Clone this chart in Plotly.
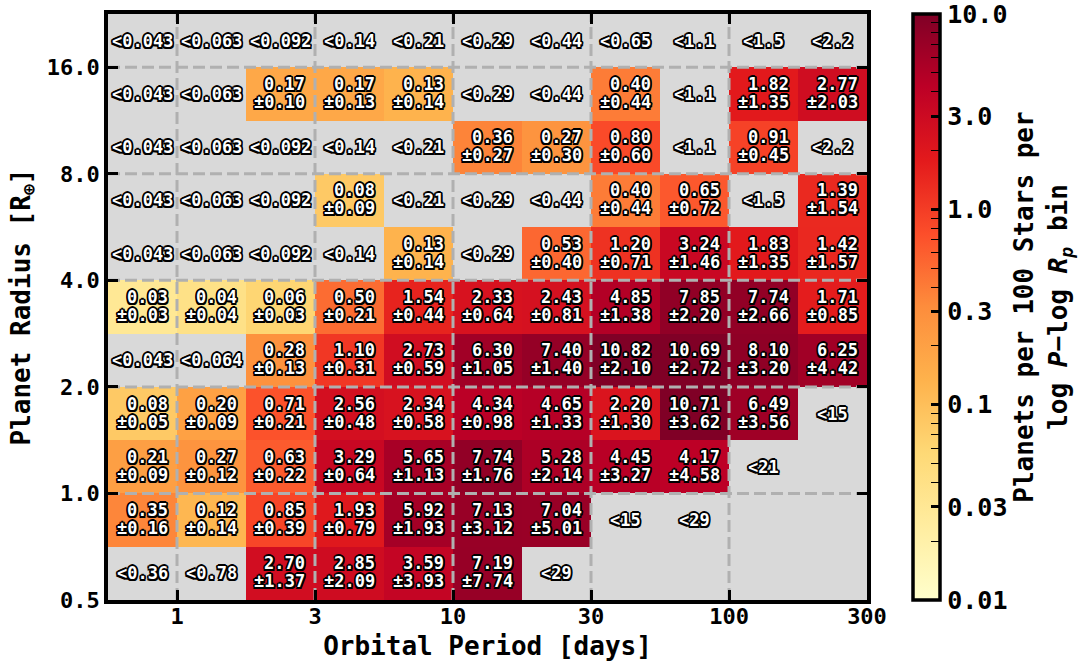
import math
import plotly.graph_objects as go

# Bin edges: orbital period [days] (quarter-decade bins) and planet radius [R_earth] (half-octave bins)
period_edges = [0.5623, 1.0, 1.778, 3.162, 5.623, 10.0, 17.78, 31.62, 56.23, 100.0, 177.8, 316.2]
radius_edges = [0.5, 0.7071, 1.0, 1.414, 2.0, 2.828, 4.0, 5.657, 8.0, 11.31, 16.0, 22.63]

# Occurrence rates (planets per 100 stars per bin); rows run from the smallest radius bin upward
rate = [
    [None, None, 2.70, 2.85, 3.59, 7.19, None, None, None, None, None],
    [0.35, 0.12, 0.85, 1.93, 5.92, 7.13, 7.04, None, None, None, None],
    [0.21, 0.27, 0.63, 3.29, 5.65, 7.74, 5.28, 4.45, 4.17, None, None],
    [0.08, 0.20, 0.71, 2.56, 2.34, 4.34, 4.65, 2.20, 10.71, 6.49, None],
    [None, None, 0.28, 1.10, 2.73, 6.30, 7.40, 10.82, 10.69, 8.10, 6.25],
    [0.03, 0.04, 0.06, 0.50, 1.54, 2.33, 2.43, 4.85, 7.85, 7.74, 1.71],
    [None, None, None, None, 0.13, None, 0.53, 1.20, 3.24, 1.83, 1.42],
    [None, None, None, 0.08, None, None, None, 0.40, 0.65, None, 1.39],
    [None, None, None, None, None, 0.36, 0.27, 0.80, None, 0.91, None],
    [None, None, 0.17, 0.17, 0.13, None, None, 0.40, None, 1.82, 2.77],
    [None, None, None, None, None, None, None, None, None, None, None],
]
rate_err = [
    [None, None, 1.37, 2.09, 3.93, 7.74, None, None, None, None, None],
    [0.16, 0.14, 0.39, 0.79, 1.93, 3.12, 5.01, None, None, None, None],
    [0.09, 0.12, 0.22, 0.64, 1.13, 1.76, 2.14, 3.27, 4.58, None, None],
    [0.05, 0.09, 0.21, 0.48, 0.58, 0.98, 1.33, 1.30, 3.62, 3.56, None],
    [None, None, 0.13, 0.31, 0.59, 1.05, 1.40, 2.10, 2.72, 3.20, 4.42],
    [0.03, 0.04, 0.03, 0.21, 0.44, 0.64, 0.81, 1.38, 2.20, 2.66, 0.85],
    [None, None, None, None, 0.14, None, 0.40, 0.71, 1.46, 1.35, 1.57],
    [None, None, None, 0.09, None, None, None, 0.44, 0.72, None, 1.54],
    [None, None, None, None, None, 0.27, 0.30, 0.60, None, 0.45, None],
    [None, None, 0.10, 0.13, 0.14, None, None, 0.44, None, 1.35, 2.03],
    [None, None, None, None, None, None, None, None, None, None, None],
]
# Upper limits for bins without a detection
upper_limit = [
    [0.36, 0.78, None, None, None, None, 29, None, None, None, None],
    [None, None, None, None, None, None, None, 15, 29, None, None],
    [None, None, None, None, None, None, None, None, None, 21, None],
    [None, None, None, None, None, None, None, None, None, None, 15],
    [0.043, 0.064, None, None, None, None, None, None, None, None, None],
    [None, None, None, None, None, None, None, None, None, None, None],
    [0.043, 0.063, 0.092, 0.14, None, 0.29, None, None, None, None, None],
    [0.043, 0.063, 0.092, None, 0.21, 0.29, 0.44, None, None, 1.5, None],
    [0.043, 0.063, 0.092, 0.14, 0.21, None, None, None, 1.1, None, 2.2],
    [0.043, 0.063, None, None, None, 0.29, 0.44, None, 1.1, None, None],
    [0.043, 0.063, 0.092, 0.14, 0.21, 0.29, 0.44, 0.65, 1.1, 1.5, 2.2],
]

period_ticks = [1.0, 3.162, 10.0, 31.62, 100.0, 316.2]
period_ticktext = ["1", "3", "10", "30", "100", "300"]
radius_ticks = [0.5, 1.0, 2.0, 4.0, 8.0, 16.0]
radius_ticktext = ["0.5", "1.0", "2.0", "4.0", "8.0", "16.0"]
cbar_major = [0.01, 0.03, 0.1, 0.3, 1.0, 3.0, 10.0]
cbar_major_text = ["0.01", "0.03", "0.1", "0.3", "1.0", "3.0", "10.0"]
cbar_minor = [0.02, 0.04, 0.05, 0.06, 0.07, 0.08, 0.09, 0.2, 0.4, 0.5, 0.6, 0.7, 0.8, 0.9,
              2.0, 4.0, 5.0, 6.0, 7.0, 8.0, 9.0]

YLORRD = ["#ffffcc", "#ffeda0", "#fed976", "#feb24c", "#fd8d3c",
          "#fc4e2a", "#e31a1c", "#bd0026", "#800026"]
colorscale = [[i / (len(YLORRD) - 1), c] for i, c in enumerate(YLORRD)]
CLEAR = [[0, "rgba(0,0,0,0)"], [1, "rgba(0,0,0,0)"]]

FONT = "DejaVu Sans Mono"
OUTLINE = ", ".join(f"{dx}px {dy}px 0 #000" for dx, dy in
                    [(-1.5, -1.5), (0, -1.7), (1.5, -1.5), (1.7, 0),
                     (1.5, 1.5), (0, 1.7), (-1.5, 1.5), (-1.7, 0)])
CELL_FONT = dict(family=FONT, size=17, color="white", weight="bold", shadow=OUTLINE)

# colour is log10 of the rate; empty / limit-only bins are left transparent
z = [[math.log10(v) if v is not None else None for v in row] for row in rate]

# colour bar spans the full plot height, just right of the axes
cbar_geom = dict(x=1.0606, xanchor="left", xpad=0, y=0.5, yanchor="middle", ypad=0,
                 len=1.0, thickness=27)

fig = go.Figure()
fig.add_trace(go.Heatmap(
    x=period_edges, y=radius_edges, z=z,
    zmin=-2, zmax=1, colorscale=colorscale, hoverinfo="skip",
    colorbar=dict(
        **cbar_geom, outlinewidth=3.5, outlinecolor="black",
        ticks="inside", ticklen=10, tickwidth=3, tickcolor="black",
        tickvals=[math.log10(v) for v in cbar_major], ticktext=cbar_major_text,
        ticklabeloverflow="allow",
        tickfont=dict(family=FONT, size=25, color="black", weight="bold"),
        title=dict(
            text="Planets per 100 Stars per<br>log <i>P</i>−log <i>R</i><sub><i>p</i></sub> bin",
            side="right", font=dict(family=FONT, size=26, color="black", weight="bold"),
        ),
    ),
))
# transparent twin of the colour bar that carries the minor ticks
fig.add_trace(go.Heatmap(
    x=period_edges, y=radius_edges, z=z,
    zmin=-2, zmax=1, colorscale=CLEAR, hoverinfo="skip",
    colorbar=dict(
        **cbar_geom, outlinewidth=0,
        ticks="inside", ticklen=9, tickwidth=1.3, tickcolor="black",
        tickvals=[math.log10(v) for v in cbar_minor], showticklabels=False,
    ),
))

# dashed grid at the major ticks, drawn over the cells
gx, gy = [], []
for p in period_ticks[:-1]:
    gx += [p, p, None]
    gy += [radius_edges[0], radius_edges[-1], None]
for r in radius_ticks[1:]:
    gx += [period_edges[0], period_edges[-1], None]
    gy += [r, r, None]
fig.add_trace(go.Scatter(
    x=gx, y=gy, mode="lines", hoverinfo="skip", showlegend=False,
    line=dict(color="#b0b0b0", width=3, dash="12px,5px"),
))

# cell labels: rate over its uncertainty (right aligned), or the upper limit
for j in range(len(radius_edges) - 1):
    yc = 0.5 * (math.log10(radius_edges[j]) + math.log10(radius_edges[j + 1]))
    for i in range(len(period_edges) - 1):
        xc = 0.5 * (math.log10(period_edges[i]) + math.log10(period_edges[i + 1]))
        if rate[j][i] is not None:
            for line, dy in ((f"{rate[j][i]:.2f}", 10), (f"±{rate_err[j][i]:.2f}", -8)):
                fig.add_annotation(
                    x=xc, y=yc, xref="x", yref="y", text=line, showarrow=False,
                    xanchor="right", yanchor="middle", xshift=27, yshift=dy,
                    font=CELL_FONT,
                )
        elif upper_limit[j][i] is not None:
            fig.add_annotation(
                x=xc, y=yc, xref="x", yref="y", text=f"<{upper_limit[j][i]:.2g}",
                showarrow=False, xanchor="center", yanchor="middle", font=CELL_FONT,
            )

axis_common = dict(
    type="log", showgrid=False, zeroline=False,
    showline=True, linewidth=3.5, linecolor="black", mirror="ticks",
    ticks="inside", ticklen=10, tickwidth=3, tickcolor="black",
    tickfont=dict(family=FONT, size=22, color="black", weight="bold"),
)
fig.update_xaxes(
    **axis_common,
    range=[math.log10(period_edges[0]), math.log10(period_edges[-1])],
    tickvals=period_ticks, ticktext=period_ticktext, ticklabelstandoff=-6,
    title=dict(text="Orbital Period [days]", standoff=10,
               font=dict(family=FONT, size=26, color="black", weight="bold")),
)
fig.update_yaxes(
    **axis_common,
    range=[math.log10(radius_edges[0]), math.log10(radius_edges[-1])],
    tickvals=radius_ticks, ticktext=radius_ticktext,
    title=dict(text="Planet Radius [R<sub>⊕</sub>]", standoff=10,
               font=dict(family=FONT, size=26, color="black", weight="bold")),
)
fig.update_layout(
    width=1084, height=668,
    margin=dict(l=108, r=217, t=14, b=68, autoexpand=False),
    paper_bgcolor="white", plot_bgcolor="#d9d9d9",
    showlegend=False,
)

fig.write_html("out.html")
